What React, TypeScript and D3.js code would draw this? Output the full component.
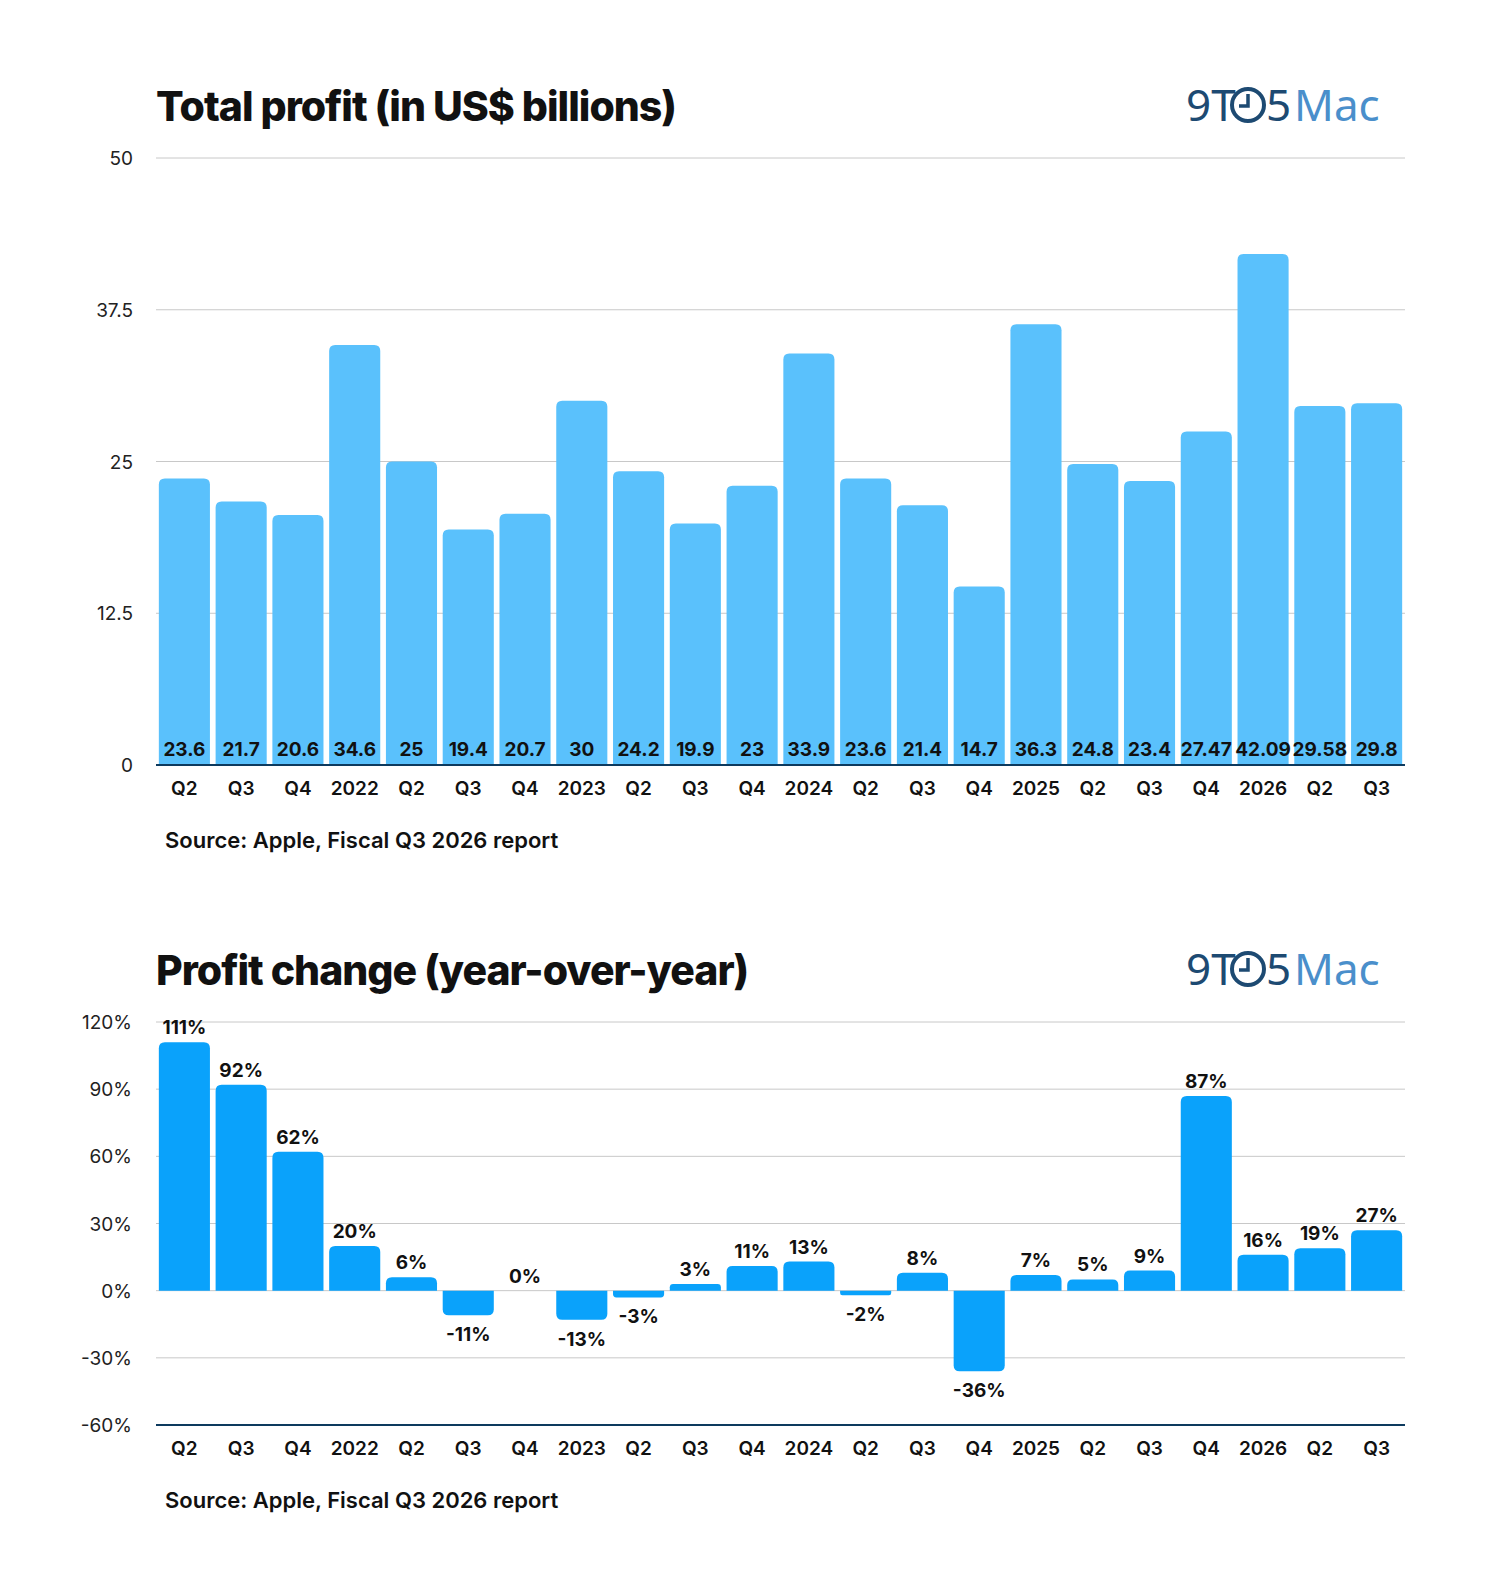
import React from "react";
import * as d3 from "d3";

const categories = ["Q2","Q3","Q4","2022","Q2","Q3","Q4","2023","Q2","Q3","Q4","2024","Q2","Q3","Q4","2025","Q2","Q3","Q4","2026","Q2","Q3"];
const profit = [23.6,21.7,20.6,34.6,25,19.4,20.7,30,24.2,19.9,23,33.9,23.6,21.4,14.7,36.3,24.8,23.4,27.47,42.09,29.58,29.8];
const profitLabels = ["23.6","21.7","20.6","34.6","25","19.4","20.7","30","24.2","19.9","23","33.9","23.6","21.4","14.7","36.3","24.8","23.4","27.47","42.09","29.58","29.8"];
const change = [111,92,62,20,6,-11,0,-13,-3,3,11,13,-2,8,-36,7,5,9,87,16,19,27];
const profitTicks = [0,12.5,25,37.5,50];
const changeTicks = [-60,-30,0,30,60,90,120];

const FONT = "Inter, 'Noto Sans', sans-serif";
const X0 = 148, X1 = 1397;

function Logo({ y }: { y: number }) {
  return (
    <g fontFamily="'Noto Sans', sans-serif" fontSize={44} fontWeight={400}>
      <text x={1178} y={y} fill="#1d4a72">9T</text>
      <circle cx={1240} cy={y - 16} r={16} fill="none" stroke="#1d4a72" strokeWidth={4} />
      <path d={`M1240 ${y - 27} L1240 ${y - 15} L1231 ${y - 15}`} fill="none" stroke="#1d4a72" strokeWidth={3.5} />
      <text x={1258} y={y} fill="#1d4a72">5</text>
      <text x={1286} y={y} fill="#4a8fcb">Mac</text>
    </g>
  );
}

export default function App() {
  const x = d3.scaleBand<number>().domain(d3.range(categories.length)).range([X0, X1]).paddingInner(0.1).paddingOuter(0.05);
  const y1 = d3.scaleLinear().domain([0, 50]).range([757, 150]);
  const y2 = d3.scaleLinear().domain([-60, 120]).range([1417, 1014]);
  const r = 6;
  const barPath = (x0: number, w: number, yTop: number, yBot: number, up: boolean) => {
    const rr = Math.min(r, Math.abs(yBot - yTop) / 2);
    if (up) return `M${x0} ${yBot} V${yTop + rr} Q${x0} ${yTop} ${x0 + rr} ${yTop} H${x0 + w - rr} Q${x0 + w} ${yTop} ${x0 + w} ${yTop + rr} V${yBot} Z`;
    return `M${x0} ${yTop} V${yBot - rr} Q${x0} ${yBot} ${x0 + rr} ${yBot} H${x0 + w - rr} Q${x0 + w} ${yBot} ${x0 + w} ${yBot - rr} V${yTop} Z`;
  };
  return (
    <svg width={1494} height={1560} style={{ display: "block", background: "#fff" }} fontFamily={FONT}>
      <rect width={1494} height={1560} fill="#fff" />
      {/* Chart 1 */}
      <text x={148} y={113} fontSize={41} fontWeight={800} fill="#111" letterSpacing={-1}>Total profit (in US$ billions)</text>
      <Logo y={113} />
      {profitTicks.map(t => (
        <g key={t}>
          <line x1={X0} x2={X1} y1={y1(t)} y2={y1(t)} stroke="#c8c8c8" strokeWidth={1} />
          <text x={125} y={y1(t) + 7} fontSize={19} textAnchor="end" fill="#222">{t}</text>
        </g>
      ))}
      {profit.map((v, i) => (
        <g key={i}>
          <path d={barPath(x(i)!, x.bandwidth(), y1(v), y1(0), true)} fill="#5ac1fc" />
          <text x={x(i)! + x.bandwidth() / 2} y={748} fontSize={19} fontWeight={700} textAnchor="middle" fill="#111">{profitLabels[i]}</text>
          <text x={x(i)! + x.bandwidth() / 2} y={787} fontSize={19} fontWeight={600} textAnchor="middle" fill="#111">{categories[i]}</text>
        </g>
      ))}
      <line x1={X0} x2={X1} y1={757} y2={757} stroke="#0d3a5e" strokeWidth={2} />
      <text x={157} y={840} fontSize={22} fontWeight={600} fill="#111">Source: Apple, Fiscal Q3 2026 report</text>

      {/* Chart 2 */}
      <text x={148} y={977} fontSize={41} fontWeight={800} fill="#111" letterSpacing={-1}>Profit change (year-over-year)</text>
      <Logo y={977} />
      {changeTicks.map(t => (
        <g key={t}>
          <line x1={X0} x2={X1} y1={y2(t)} y2={y2(t)} stroke="#c8c8c8" strokeWidth={1} />
          <text x={124} y={y2(t) + 7} fontSize={19} textAnchor="end" fill="#222">{t}%</text>
        </g>
      ))}
      {change.map((v, i) => {
        const cx = x(i)! + x.bandwidth() / 2;
        return (
          <g key={i}>
            {v !== 0 && (v > 0
              ? <path d={barPath(x(i)!, x.bandwidth(), y2(v), y2(0), true)} fill="#0aa2fb" />
              : <path d={barPath(x(i)!, x.bandwidth(), y2(0), y2(v), false)} fill="#0aa2fb" />)}
            <text x={cx} y={v >= 0 ? y2(v) - 8 : y2(v) + 26} fontSize={19} fontWeight={700} textAnchor="middle" fill="#111">{v}%</text>
            <text x={cx} y={1447} fontSize={19} fontWeight={600} textAnchor="middle" fill="#111">{categories[i]}</text>
          </g>
        );
      })}
      <line x1={X0} x2={X1} y1={1417} y2={1417} stroke="#0d3a5e" strokeWidth={2} />
      <text x={157} y={1500} fontSize={22} fontWeight={600} fill="#111">Source: Apple, Fiscal Q3 2026 report</text>
    </svg>
  );
}
